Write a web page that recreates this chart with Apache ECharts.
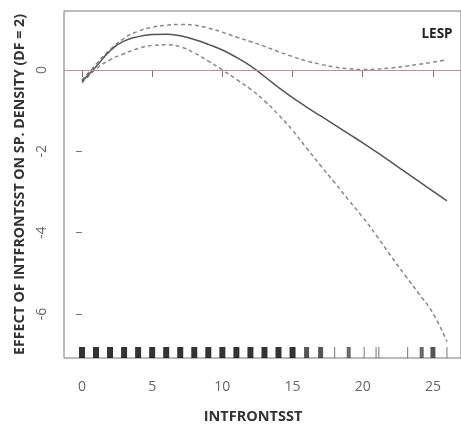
<!DOCTYPE html>
<html>
<head>
<meta charset="utf-8">
<script src="https://cdn.jsdelivr.net/npm/echarts@6/dist/echarts.min.js"></script>
<style>
html,body{margin:0;padding:0;background:#fff;}
#c{width:461px;height:425px;}
</style>
</head>
<body>
<div id="c"></div>
<script>
// ---- data ----
const xs = [0,1,2,3,4,5,6,7,8,9,10,11,12,13,14,15,16,17,18,19,20,21,22,23,24,25,26];
const fit = [-0.28, 0.08, 0.47, 0.71, 0.82, 0.87, 0.88, 0.84, 0.75, 0.63, 0.49, 0.31, 0.1, -0.16, -0.43, -0.68, -0.91, -1.13, -1.35, -1.57, -1.79, -2.02, -2.26, -2.5, -2.74, -2.98, -3.22];
const upper = [-0.25, 0.14, 0.5, 0.78, 0.95, 1.05, 1.1, 1.12, 1.1, 1.03, 0.93, 0.81, 0.7, 0.58, 0.45, 0.33, 0.22, 0.14, 0.07, 0.03, 0.01, 0.02, 0.05, 0.09, 0.14, 0.19, 0.25];
const lower = [-0.32, 0.02, 0.25, 0.4, 0.53, 0.6, 0.62, 0.57, 0.42, 0.22, 0.0, -0.23, -0.47, -0.76, -1.1, -1.48, -1.92, -2.35, -2.77, -3.2, -3.62, -4.08, -4.57, -5.04, -5.5, -5.98, -6.68];
const rugX = [0,1,2,3,4,5,6,7,8,9,10,11,12,13,14,15,16,17,18,19,20.1,20.95,21.15,23.2,24.2,25,26];
const rugCount = [5,5,5,5,5,5,5,5,5,5,5,5,5,5,5,5,4,4,1,3,1,1,1,1,3,4,1];
const xTicks = [0, 5, 10, 15, 20, 25];
const yTicks = [-6, -4, -2, 0];
const panelLabel = 'LESP';
const xTitle = 'INTFRONTSST';
const yTitle = 'EFFECT OF INTFRONTSST ON SP. DENSITY (DF = 2)';

const X_MIN = -1.28, X_MAX = 27.0, Y_MIN = -7.08, Y_MAX = 1.45;

const pair = (arr) => xs.map((x, i) => [x, arr[i]]);
const rugColor = (c) => c >= 5 ? '#000' : c >= 4 ? '#2a2a2a' : c >= 3 ? '#444' : '#555';
const rugWidth = (c) => c >= 3 ? c + 1 : c;

const chart = echarts.init(document.getElementById('c'));
const FONT = '"Open Sans", "DejaVu Sans", sans-serif';
chart.setOption({
  animation: false,
  backgroundColor: '#fff',
  grid: { left: 64, top: 11, right: -2, bottom: 67, show: true, borderColor: '#777', borderWidth: 1, backgroundColor: 'transparent' },
  title: [
    { text: panelLabel, left: 432, top: 22, textAlign: 'center',
      textStyle: { fontFamily: FONT, fontSize: 13.5, fontWeight: 'bold', color: '#222' } },
    { text: xTitle, left: 248, top: 404, textAlign: 'center',
      textStyle: { fontFamily: FONT, fontSize: 14.5, fontWeight: 'bold', color: '#333' } }
  ],
  xAxis: {
    type: 'value', min: X_MIN, max: X_MAX,
    axisLine: { show: false },
    splitLine: { show: false },
    axisTick: { show: true, length: 7, lineStyle: { color: '#777' }, customValues: xTicks },
    axisLabel: { margin: 22, color: '#666', fontFamily: FONT, fontSize: 14, customValues: xTicks }
  },
  yAxis: {
    type: 'value', min: Y_MIN, max: Y_MAX,
    name: yTitle, nameLocation: 'middle', nameGap: 36,
    nameTextStyle: { fontFamily: FONT, fontSize: 14.2, fontWeight: 'bold', color: '#333' },
    axisLine: { show: false },
    splitLine: { show: false },
    axisTick: { show: true, length: 6, lineStyle: { color: '#777' }, customValues: yTicks },
    axisLabel: { rotate: 90, margin: 15, color: '#666', fontFamily: FONT, fontSize: 14, customValues: yTicks }
  },
  series: [
    { type: 'line', data: pair(upper), smooth: 0.5, showSymbol: false,
      lineStyle: { color: '#888', width: 1.5, type: [4, 3] } },
    { type: 'line', data: pair(lower), smooth: 0.5, showSymbol: false,
      lineStyle: { color: '#888', width: 1.5, type: [4, 3] } },
    { type: 'line', data: pair(fit), smooth: 0.5, showSymbol: false,
      lineStyle: { color: '#555', width: 1.5 },
      markLine: { silent: true, symbol: 'none', label: { show: false },
        lineStyle: { color: '#c48b95', width: 1, type: 'solid' },
        data: [{ yAxis: 0 }] } },
    { type: 'scatter', clip: true,
      data: rugX.map((x, i) => ({ value: [x, Y_MIN],
        symbolSize: [rugWidth(rugCount[i]), 11],
        itemStyle: { color: rugColor(rugCount[i]) } })),
      symbol: 'rect', symbolOffset: [0, -5.5] }
  ]
});
</script>
</body>
</html>
